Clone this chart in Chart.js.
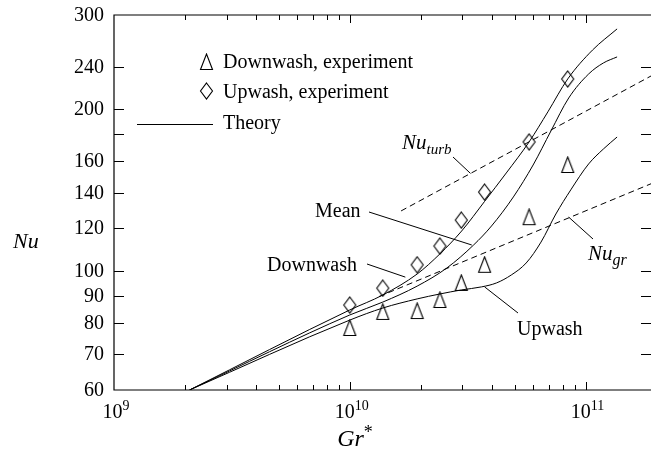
<!DOCTYPE html>
<html>
<head>
<meta charset="utf-8">
<script src="https://cdn.jsdelivr.net/npm/chart.js@4.4.1/dist/chart.umd.min.js"></script>
<style>
body { margin: 0; background: #fff; }
canvas { display: block; }
</style>
</head>
<body>
<canvas id="myChart" width="656" height="453"></canvas>
<script>
// experiment points
const expGr = [1.0e10, 1.38e10, 1.93e10, 2.41e10, 2.97e10, 3.73e10, 5.76e10, 8.4e10];
const downwashExp = [78.3, 83.9, 84.2, 88.3, 95.0, 102.7, 126, 157.6];
const upwashExp = [86.4, 92.9, 102.7, 111.3, 124.4, 140.3, 174, 228];

// theory curves (upper one is labelled "Downwash", lower one "Upwash")
const downTheoryGr = [2.09e9, 1.0e10, 1.38e10, 1.93e10, 2.41e10, 2.98e10, 3.73e10, 4.61e10, 5.76e10, 6.92e10, 8.40e10, 1.07e11, 1.36e11];
const downTheoryNu = [60, 84.6, 90.2, 98.7, 107.6, 118.7, 134.8, 152.3, 174.0, 198.0, 228.0, 258.1, 282.6];
const meanTheoryGr = [2.09e9, 1.0e10, 1.38e10, 1.93e10, 2.58e10, 3.35e10, 3.99e10, 4.94e10, 5.99e10, 7.13e10, 8.48e10, 1.03e11, 1.19e11, 1.36e11];
const meanTheoryNu = [60, 82.8, 87.5, 93.7, 101.3, 111.8, 121.3, 137.4, 157.6, 182.4, 210.1, 232.9, 244.2, 250.6];
const upTheoryGr = [2.09e9, 1.0e10, 1.38e10, 1.93e10, 2.41e10, 2.98e10, 3.62e10, 4.19e10, 4.84e10, 5.60e10, 6.47e10, 7.48e10, 8.65e10, 1.03e11, 1.19e11, 1.36e11];
const upTheoryNu = [60, 81.0, 85.3, 88.7, 90.6, 92.2, 93.4, 95.0, 98.3, 103.5, 113.2, 127.7, 141.6, 158.3, 168.8, 177.7];

// dashed limits
const turbGr = [1.65e10, 1.894e11];
const turbNu = [129.4, 230.9];
const grLimGr = [1.33e10, 1.894e11];
const grLimNu = [89.6, 145.4];

// axes
const xMin = 1e9, xMax = 1.894e11;
const yMin = 60, yMax = 300;
const yTicks = [60, 70, 80, 90, 100, 120, 140, 160, 180, 200, 240, 300];
const yTickLabels = ['60', '70', '80', '90', '100', '120', '140', '160', '', '200', '240', '300'];
const xDecades = [9, 10, 11];

const serif = '"Liberation Serif", "Times New Roman", serif';

function pts(xs, ys) {
    return xs.map((v, i) => ({x: v, y: ys[i]}));
}

function makeMarker(kind) {
    var c = document.createElement('canvas');
    c.width = 15; c.height = 18;
    var g = c.getContext('2d');
    g.strokeStyle = '#000';
    g.lineWidth = 1.1;
    g.beginPath();
    if (kind === 'tri') {
        g.moveTo(7.5, 1); g.lineTo(13.5, 16.5); g.lineTo(1.5, 16.5);
    } else {
        g.moveTo(7.5, 1); g.lineTo(13.5, 9); g.lineTo(7.5, 17); g.lineTo(1.5, 9);
    }
    g.closePath();
    g.stroke();
    return c;
}
const triImg = makeMarker('tri');
const diaImg = makeMarker('dia');

function solid(xs, ys) {
    return {data: pts(xs, ys), showLine: true, borderColor: '#000', borderWidth: 1,
            pointRadius: 0, cubicInterpolationMode: 'monotone'};
}
function dashed(xs, ys) {
    return {data: pts(xs, ys), showLine: true, borderColor: '#000', borderWidth: 1,
            borderDash: [6, 4], pointRadius: 0};
}

// draw "base" + raised/lowered small text
function richText(ctx, x, y, base, small, baseFont, smallFont, shift, align) {
    ctx.font = baseFont;
    var w1 = ctx.measureText(base).width;
    ctx.font = smallFont;
    var w2 = ctx.measureText(small).width;
    var x0 = align === 'center' ? x - (w1 + w2) / 2 : x;
    ctx.textAlign = 'left';
    ctx.font = baseFont;
    ctx.fillText(base, x0, y);
    ctx.font = smallFont;
    ctx.fillText(small, x0 + w1, y + shift);
}

const decor = {
    id: 'decor',
    afterDatasetsDraw(chart) {
        const {ctx, chartArea: a, scales: {x, y}} = chart;
        ctx.save();
        ctx.strokeStyle = '#000';
        ctx.fillStyle = '#000';
        ctx.lineWidth = 1.2;

        // frame (right side is cut by the image edge)
        ctx.beginPath();
        ctx.moveTo(a.right, a.top); ctx.lineTo(a.left, a.top);
        ctx.lineTo(a.left, a.bottom); ctx.lineTo(a.right, a.bottom);
        ctx.stroke();

        // y ticks, both sides, pointing in
        ctx.lineWidth = 1;
        ctx.font = '20px ' + serif;
        ctx.textAlign = 'right';
        ctx.textBaseline = 'middle';
        yTicks.forEach((v, i) => {
            var py = Math.round(y.getPixelForValue(v)) + 0.5;
            if (v > yMin && v < yMax) {
                ctx.beginPath();
                ctx.moveTo(a.left, py); ctx.lineTo(a.left + 10, py);
                ctx.moveTo(a.right, py); ctx.lineTo(a.right - 10, py);
                ctx.stroke();
            }
            if (yTickLabels[i]) ctx.fillText(yTickLabels[i], a.left - 10, py);
        });

        // x ticks: decades and minor ticks, bottom and top
        for (var d = 9; d <= 11; d++) {
            for (var m = 1; m <= 9; m++) {
                var v = m * Math.pow(10, d);
                if (v <= xMin || v >= xMax) continue;
                var px = Math.round(x.getPixelForValue(v)) + 0.5;
                var len = m === 1 ? 8 : 5;
                ctx.beginPath();
                ctx.moveTo(px, a.bottom); ctx.lineTo(px, a.bottom - len);
                ctx.moveTo(px, a.top); ctx.lineTo(px, a.top + len);
                ctx.stroke();
            }
        }
        ctx.textBaseline = 'alphabetic';
        xDecades.forEach(d => {
            var px = x.getPixelForValue(Math.pow(10, d));
            richText(ctx, px + 2, 418, '10', String(d), '20px ' + serif, '14px ' + serif, -8, 'center');
        });

        // axis titles
        ctx.font = 'italic 22px ' + serif;
        ctx.textAlign = 'left';
        ctx.fillText('Nu', 13, 248);
        richText(ctx, 355, 446, 'Gr', '*', 'italic 24px ' + serif, '18px ' + serif, -8, 'center');

        // legend
        ctx.drawImage(triImg, 199, 53);
        ctx.drawImage(diaImg, 199, 82);
        ctx.beginPath();
        ctx.moveTo(137, 124.5); ctx.lineTo(213, 124.5);
        ctx.stroke();
        ctx.font = '20px ' + serif;
        ctx.fillText('Downwash, experiment', 223, 68);
        ctx.fillText('Upwash, experiment', 223, 98);
        ctx.fillText('Theory', 223, 129);

        // curve labels with leader lines
        function leader(x0, y0, gv, nv) {
            ctx.beginPath();
            ctx.moveTo(x0, y0);
            ctx.lineTo(x.getPixelForValue(gv), y.getPixelForValue(nv));
            ctx.stroke();
        }
        ctx.font = '20px ' + serif;
        ctx.fillText('Mean', 315, 217);
        leader(369, 212, 3.29e10, 111.8);
        ctx.fillText('Downwash', 267, 271);
        leader(367, 264, 1.72e10, 97.4);
        ctx.fillText('Upwash', 517, 335);
        leader(518, 313, 3.73e10, 93.4);
        richText(ctx, 402, 149, 'Nu', 'turb', 'italic 21px ' + serif, 'italic 15px ' + serif, 5, 'left');
        leader(453, 157, 3.25e10, 152);
        richText(ctx, 588, 260, 'Nu', 'gr', 'italic 21px ' + serif, 'italic 16px ' + serif, 5, 'left');
        leader(593, 239, 8.48e10, 126);

        ctx.restore();
    }
};

var ctx = document.getElementById('myChart');
var myChart = new Chart(ctx, {
    type: 'scatter',
    data: {
        datasets: [
            solid(downTheoryGr, downTheoryNu),
            solid(meanTheoryGr, meanTheoryNu),
            solid(upTheoryGr, upTheoryNu),
            dashed(turbGr, turbNu),
            dashed(grLimGr, grLimNu),
            {data: pts(expGr, downwashExp), pointStyle: triImg, showLine: false},
            {data: pts(expGr, upwashExp), pointStyle: diaImg, showLine: false}
        ]
    },
    options: {
        responsive: false,
        animation: false,
        events: [],
        layout: {padding: {left: 114, right: 0, top: 15, bottom: 63}},
        plugins: {legend: {display: false}, tooltip: {enabled: false}},
        scales: {
            x: {type: 'logarithmic', min: xMin, max: xMax, display: false},
            y: {type: 'logarithmic', min: yMin, max: yMax, display: false}
        }
    },
    plugins: [decor]
});
</script>
</body>
</html>
